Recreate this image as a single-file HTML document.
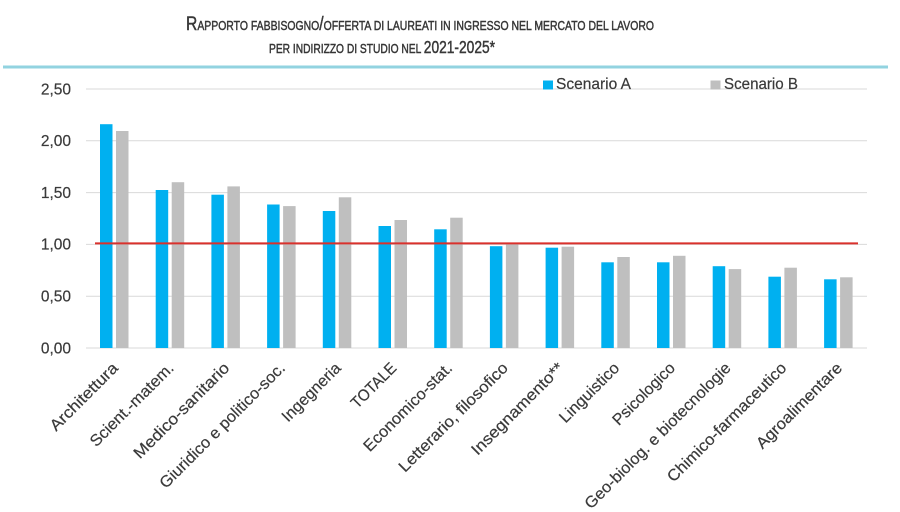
<!DOCTYPE html>
<html>
<head>
<meta charset="utf-8">
<style>
html,body{margin:0;padding:0;background:#fff;}
svg{display:block;}
text{font-family:"Liberation Sans",sans-serif;fill:#3a3a3a;}
</style>
</head>
<body>
<svg width="900" height="512" viewBox="0 0 900 512" xmlns="http://www.w3.org/2000/svg">
<rect width="900" height="512" fill="#fff"/>

<!-- Title -->
<text x="186" y="30" textLength="468" lengthAdjust="spacingAndGlyphs" fill="#333" stroke="#333" stroke-width="0.45"><tspan font-size="19.5">R</tspan><tspan font-size="13">APPORTO FABBISOGNO</tspan><tspan font-size="19.5">/</tspan><tspan font-size="13">OFFERTA DI LAUREATI IN INGRESSO NEL MERCATO DEL LAVORO</tspan></text>
<text x="269" y="53" textLength="226" lengthAdjust="spacingAndGlyphs" fill="#333" stroke="#333" stroke-width="0.45"><tspan font-size="13">PER INDIRIZZO DI STUDIO NEL </tspan><tspan font-size="17.5">2021-2025*</tspan></text>

<!-- Cyan separator -->
<rect x="3" y="65.5" width="885" height="3" fill="#92d3e0"/>

<!-- Gridlines -->
<g stroke="#d9d9d9" stroke-width="1">
<line x1="86" y1="89" x2="867" y2="89"/>
<line x1="86" y1="140.8" x2="867" y2="140.8"/>
<line x1="86" y1="192.6" x2="867" y2="192.6"/>
<line x1="86" y1="244.4" x2="867" y2="244.4"/>
<line x1="86" y1="296.2" x2="867" y2="296.2"/>
<line x1="86" y1="348" x2="867" y2="348"/>
</g>

<!-- Y labels -->
<g font-size="15.5" text-anchor="end" stroke="#3a3a3a" stroke-width="0.2">
<text x="71" y="94.3">2,50</text>
<text x="71" y="146.1">2,00</text>
<text x="71" y="197.9">1,50</text>
<text x="71" y="249.7">1,00</text>
<text x="71" y="301.5">0,50</text>
<text x="71" y="353.3">0,00</text>
</g>

<!-- Bars Scenario A -->
<g fill="#00b0f0">
<rect x="100" y="124.2" width="12.5" height="223.8"/>
<rect x="155.7" y="190" width="12.5" height="158"/>
<rect x="211.4" y="194.7" width="12.5" height="153.3"/>
<rect x="267.1" y="204.5" width="12.5" height="143.5"/>
<rect x="322.8" y="211" width="12.5" height="137"/>
<rect x="378.5" y="226" width="12.5" height="122"/>
<rect x="434.2" y="229.3" width="12.5" height="118.7"/>
<rect x="489.9" y="246.2" width="12.5" height="101.8"/>
<rect x="545.6" y="247.7" width="12.5" height="100.3"/>
<rect x="601.3" y="262.3" width="12.5" height="85.7"/>
<rect x="657" y="262.3" width="12.5" height="85.7"/>
<rect x="712.7" y="266.2" width="12.5" height="81.8"/>
<rect x="768.4" y="276.7" width="12.5" height="71.3"/>
<rect x="824.1" y="279.3" width="12.5" height="68.7"/>
</g>

<!-- Bars Scenario B -->
<g fill="#bfbfbf">
<rect x="116" y="131" width="12.5" height="217"/>
<rect x="171.7" y="182.2" width="12.5" height="165.8"/>
<rect x="227.4" y="186.4" width="12.5" height="161.6"/>
<rect x="283.1" y="206.1" width="12.5" height="141.9"/>
<rect x="338.8" y="197.3" width="12.5" height="150.7"/>
<rect x="394.5" y="220" width="12.5" height="128"/>
<rect x="450.2" y="217.7" width="12.5" height="130.3"/>
<rect x="505.9" y="243.4" width="12.5" height="104.6"/>
<rect x="561.6" y="246.7" width="12.5" height="101.3"/>
<rect x="617.3" y="257" width="12.5" height="91"/>
<rect x="673" y="255.8" width="12.5" height="92.2"/>
<rect x="728.7" y="269.1" width="12.5" height="78.9"/>
<rect x="784.4" y="267.7" width="12.5" height="80.3"/>
<rect x="840.1" y="277.3" width="12.5" height="70.7"/>
</g>

<!-- Red reference line -->
<line x1="95" y1="243.4" x2="858" y2="243.4" stroke="#d9312c" stroke-width="2"/>

<!-- Legend -->
<rect x="543" y="80.5" width="10" height="9" fill="#00b0f0"/>
<text x="556" y="89" font-size="15.5" textLength="75" lengthAdjust="spacingAndGlyphs" stroke="#3a3a3a" stroke-width="0.2">Scenario A</text>
<rect x="710.5" y="80.5" width="10" height="9" fill="#bfbfbf"/>
<text x="724" y="89" font-size="15.5" textLength="74" lengthAdjust="spacingAndGlyphs" stroke="#3a3a3a" stroke-width="0.2">Scenario B</text>

<!-- X labels -->
<g font-size="16" text-anchor="end" stroke="#3a3a3a" stroke-width="0.2">
<text transform="translate(119,369) rotate(-45)" textLength="89" lengthAdjust="spacingAndGlyphs">Architettura</text>
<text transform="translate(174.7,369) rotate(-45)" textLength="111" lengthAdjust="spacingAndGlyphs">Scient.-matem.</text>
<text transform="translate(230.4,369) rotate(-45)" textLength="128" lengthAdjust="spacingAndGlyphs">Medico-sanitario</text>
<text transform="translate(286.1,369) rotate(-45)" textLength="170" lengthAdjust="spacingAndGlyphs">Giuridico e politico-soc.</text>
<text transform="translate(341.8,369) rotate(-45)" textLength="76" lengthAdjust="spacingAndGlyphs">Ingegneria</text>
<text transform="translate(397.5,369) rotate(-45)" textLength="57" lengthAdjust="spacingAndGlyphs">TOTALE</text>
<text transform="translate(453.2,369) rotate(-45)" textLength="118" lengthAdjust="spacingAndGlyphs">Economico-stat.</text>
<text transform="translate(508.9,369) rotate(-45)" textLength="147" lengthAdjust="spacingAndGlyphs">Letterario, filosofico</text>
<text transform="translate(564.6,369) rotate(-45)" textLength="123" lengthAdjust="spacingAndGlyphs">Insegnamento**</text>
<text transform="translate(620.3,369) rotate(-45)" textLength="77.5" lengthAdjust="spacingAndGlyphs">Linguistico</text>
<text transform="translate(676,369) rotate(-45)" textLength="81" lengthAdjust="spacingAndGlyphs">Psicologico</text>
<text transform="translate(731.7,369) rotate(-45)" textLength="199" lengthAdjust="spacingAndGlyphs">Geo-biolog. e biotecnologie</text>
<text transform="translate(787.4,369) rotate(-45)" textLength="161" lengthAdjust="spacingAndGlyphs">Chimico-farmaceutico</text>
<text transform="translate(843.1,369) rotate(-45)" textLength="114" lengthAdjust="spacingAndGlyphs">Agroalimentare</text>
</g>
</svg>
</body>
</html>
